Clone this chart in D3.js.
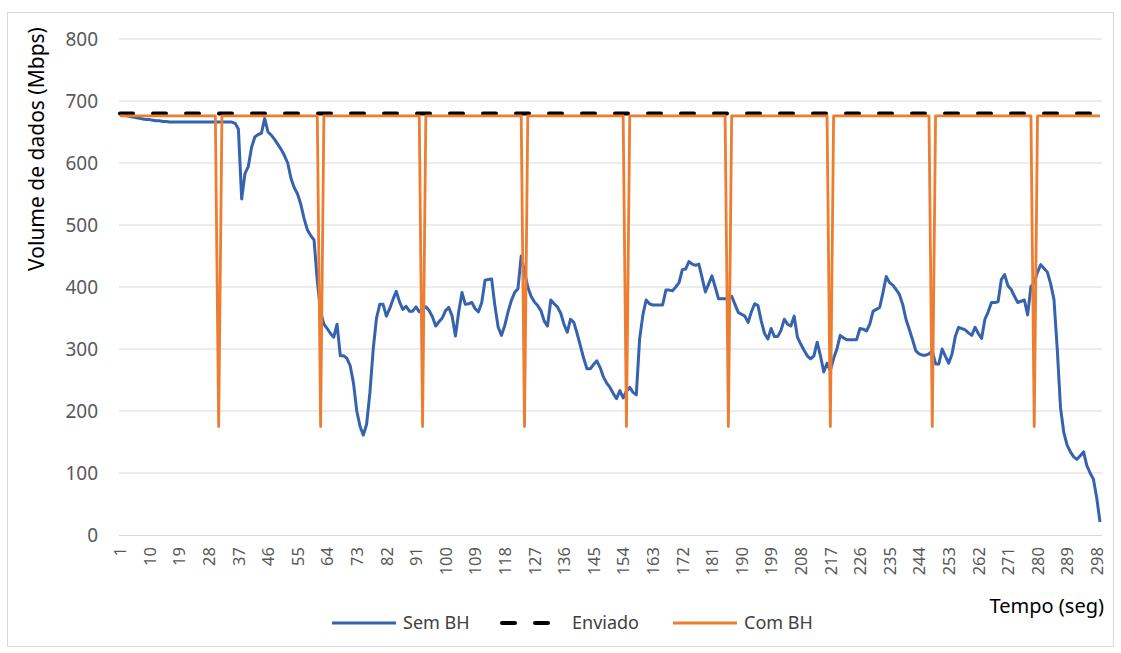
<!DOCTYPE html>
<html>
<head>
<meta charset="utf-8">
<script src="https://cdn.jsdelivr.net/npm/d3@7"></script>
<style>
  body { margin: 0; background: #fff; }
  text { font-family: "Noto Sans", "Open Sans", sans-serif; }
</style>
</head>
<body>
<script>
var width = 1121,
    height = 653;

// tempo (seg): 1..299
var tempo = d3.range(1, 300);

// Sem BH (Mbps), one value per second
var semBH = [
  677,677,676,675,674,673,672,671,670,670,
  669,668,668,667,667,666,666,666,666,666,
  666,666,666,666,666,666,666,666,666,666,
  666,666,666,666,666,664,655,542,583,594,
  625,642,646,648,672,650,645,638,630,622,
  612,600,575,560,550,533,510,492,483,476,
  410,360,340,333,325,319,340,289,289,285,
  273,245,200,175,161,179,230,300,350,372,
  372,353,365,380,393,376,364,369,361,361,
  368,360,365,368,362,352,337,344,350,362,
  367,353,321,360,391,372,373,375,365,360,
  375,411,412,413,370,335,322,338,360,378,
  391,397,450,425,400,385,376,370,362,345,
  337,379,373,368,358,340,327,348,343,325,
  305,285,268,268,275,281,270,255,245,238,
  228,220,233,221,232,238,230,226,316,355,
  379,373,371,371,371,371,395,395,394,400,
  407,428,429,441,437,435,437,415,392,405,
  418,400,381,381,381,383,385,372,359,356,
  353,343,360,373,370,345,325,316,333,320,
  320,330,348,340,337,353,319,308,298,289,
  284,289,311,289,263,277,265,285,300,322,
  318,315,315,315,315,333,332,329,340,361,
  364,367,391,417,407,403,396,388,372,348,
  332,315,297,292,290,290,292,297,276,276,
  300,288,277,292,320,335,333,331,326,322,
  335,325,317,348,360,375,375,376,412,420,
  402,396,385,375,377,379,355,401,407,424,
  436,430,424,405,380,300,205,165,145,134,
  126,122,128,134,112,100,90,60,21
];

// Enviado: constant rate
var enviadoLevel = 680;

// Com BH: steady level, drops at these seconds
var comBHLevel = 676;
var comBHDrop = 175;
var comBHDropAt = [31, 62, 93, 124, 155, 186, 217, 248, 279];

var yTicks = [0, 100, 200, 300, 400, 500, 600, 700, 800];

var series = [
  { name: "Sem BH", color: "#3563ae", dash: null, width: 3,
    values: tempo.map(function (t, i) { return semBH[i]; }) },
  { name: "Enviado", color: "#000", dash: "13,20", width: 4,
    values: tempo.map(function () { return enviadoLevel; }) },
  { name: "Com BH", color: "#ed7d31", dash: null, width: 2.8,
    values: tempo.map(function (t) { return comBHDropAt.indexOf(t) >= 0 ? comBHDrop : comBHLevel; }) }
];

var svg = d3.select("body").append("svg")
    .attr("width", width)
    .attr("height", height);

svg.append("rect")
    .attr("x", 7.5).attr("y", 12.5)
    .attr("width", 1106).attr("height", 634)
    .attr("fill", "#fff")
    .attr("stroke", "#d9d9d9");

var x = d3.scalePoint()
    .domain(tempo)
    .range([120, 1100]);

var y = d3.scaleLinear()
    .domain([0, 800])
    .range([535, 39]);

// gridlines
svg.append("g")
    .selectAll("line")
    .data(yTicks.filter(function (d) { return d > 0; }))
    .enter().append("line")
    .attr("x1", 119).attr("x2", 1102)
    .attr("y1", function (d) { return y(d); })
    .attr("y2", function (d) { return y(d); })
    .attr("stroke", "#d9d9d9")
    .attr("stroke-width", 1.2);

// y axis labels
var yAxis = d3.axisLeft(y).tickValues(yTicks).tickSize(0).tickPadding(0);
var gy = svg.append("g")
    .attr("transform", "translate(98,0)")
    .call(yAxis);
gy.select(".domain").remove();
gy.selectAll("text")
    .attr("dy", "0.35em")
    .style("font-size", "19px")
    .attr("fill", "#595959");

// x axis
var xAxis = d3.axisBottom(x)
    .tickValues(tempo.filter(function (t) { return (t - 1) % 9 === 0; }))
    .tickSize(0)
    .tickPadding(0);
var gx = svg.append("g")
    .attr("transform", "translate(0," + y(0) + ")")
    .call(xAxis);
gx.select(".domain")
    .attr("d", "M119,0.5H1102")
    .attr("stroke", "#d9d9d9")
    .attr("stroke-width", 1.2);
gx.selectAll("text")
    .attr("transform", "rotate(-90)")
    .attr("x", -12)
    .attr("y", 0)
    .attr("dy", "0.35em")
    .style("text-anchor", "end")
    .style("font-size", "16.5px")
    .attr("fill", "#595959");

// lines
var line = d3.line()
    .x(function (d, i) { return x(tempo[i]); })
    .y(function (d) { return y(d); });

svg.append("g")
    .selectAll("path")
    .data(series)
    .enter().append("path")
    .attr("d", function (d) { return line(d.values); })
    .attr("fill", "none")
    .attr("stroke", function (d) { return d.color; })
    .attr("stroke-width", function (d) { return d.width; })
    .attr("stroke-dasharray", function (d) { return d.dash; })
    .attr("stroke-linecap", function (d) { return d.dash ? "round" : "butt"; })
    .attr("stroke-linejoin", "round");

// axis titles
svg.append("text")
    .attr("transform", "translate(44,149) rotate(-90)")
    .style("text-anchor", "middle")
    .style("font-size", "21px")
    .attr("fill", "#000")
    .text("Volume de dados (Mbps)");

svg.append("text")
    .attr("x", 1104)
    .attr("y", 613)
    .style("text-anchor", "end")
    .style("font-size", "20px")
    .attr("fill", "#000")
    .text("Tempo (seg)");

// legend
var legendX = [332, 500, 673];
var legend = svg.append("g")
    .selectAll("g")
    .data(series)
    .enter().append("g")
    .attr("transform", function (d, i) { return "translate(" + legendX[i] + ",623)"; });

legend.append("line")
    .attr("x1", function (d) { return d.dash ? 2 : 0; })
    .attr("x2", function (d) { return d.dash ? 62 : 64; })
    .attr("stroke", function (d) { return d.color; })
    .attr("stroke-width", function (d) { return d.width; })
    .attr("stroke-dasharray", function (d) { return d.dash ? "13,20" : null; })
    .attr("stroke-linecap", function (d) { return d.dash ? "round" : "butt"; });

legend.append("text")
    .attr("x", function (d) { return d.dash ? 72 : 71; })
    .attr("dy", "0.35em")
    .style("font-size", "18px")
    .attr("fill", "#404040")
    .text(function (d) { return d.name; });
</script>
</body>
</html>
